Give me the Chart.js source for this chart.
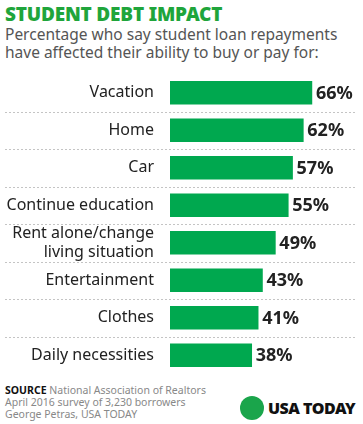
<!DOCTYPE html>
<html lang="en">
<head>
  <meta charset="UTF-8">
  <title>Student Debt Impact</title>
  <script src="https://cdn.jsdelivr.net/npm/chart.js"></script>
  <style>
    body {
      margin: 0;
      width: 363px;
      height: 424px;
      background: #fff;
      font-family: "Noto Sans", Arial, sans-serif;
      position: relative;
      overflow: hidden;
    }
    .title {
      position: absolute;
      left: 5px;
      top: 1px;
      font-size: 19px;
      font-weight: 900;
      color: #1fa53b;
      letter-spacing: -0.2px;
    }
    .subtitle {
      position: absolute;
      left: 5px;
      top: 25px;
      font-size: 15.5px;
      line-height: 18px;
      color: #555;
    }
    .chart-box {
      position: absolute;
      left: 0;
      top: 74px;
      width: 363px;
      height: 300px;
    }
    .source {
      position: absolute;
      left: 5px;
      top: 384px;
      font-size: 10.5px;
      line-height: 12px;
      color: #888;
    }
    .source b { color: #111; }
    .logo {
      position: absolute;
      left: 240px;
      top: 396px;
      display: flex;
      align-items: center;
    }
    .dot {
      width: 24px;
      height: 24px;
      border-radius: 50%;
      background: #1aa54b;
      margin-right: 4px;
    }
    .logo span {
      font-size: 16px;
      font-weight: 900;
      color: #111;
      letter-spacing: -0.5px;
    }
  </style>
</head>
<body>
  <div class="title">STUDENT DEBT IMPACT</div>
  <div class="subtitle">Percentage who say student loan repayments<br>have affected their ability to buy or pay for:</div>

  <div class="chart-box"><canvas id="debtChart"></canvas></div>

  <div class="source"><b>SOURCE</b> National Association of Realtors<br>April 2016 survey of 3,230 borrowers<br>George Petras, USA TODAY</div>
  <div class="logo"><div class="dot"></div><span>USA TODAY</span></div>

  <script>
    const categories = [
      'Vacation',
      'Home',
      'Car',
      'Continue education',
      ['Rent alone/change', 'living situation'],
      'Entertainment',
      'Clothes',
      'Daily necessities'
    ];
    const percents = [66, 62, 57, 55, 49, 43, 41, 38];

    // dotted separators between rows, running across the label area too
    const separators = {
      id: 'separators',
      beforeDatasetsDraw(chart) {
        const ctx = chart.ctx;
        const y = chart.scales.y;
        ctx.save();
        ctx.strokeStyle = '#c4c4c4';
        ctx.lineWidth = 1;
        ctx.setLineDash([2, 2]);
        for (let i = 0; i < categories.length - 1; i++) {
          const py = Math.round((y.getPixelForValue(i) + y.getPixelForValue(i + 1)) / 2) + 0.5;
          ctx.beginPath();
          ctx.moveTo(5, py);
          ctx.lineTo(356, py);
          ctx.stroke();
        }
        ctx.restore();
      }
    };

    const valueLabels = {
      id: 'valueLabels',
      afterDatasetsDraw(chart) {
        const ctx = chart.ctx;
        const meta = chart.getDatasetMeta(0);
        ctx.save();
        ctx.font = 'bold 18px "Noto Sans", Arial, sans-serif';
        ctx.fillStyle = '#222';
        ctx.textAlign = 'left';
        ctx.textBaseline = 'middle';
        meta.data.forEach((bar, i) => {
          ctx.fillText(percents[i] + '%', bar.x + 4, bar.y + 1);
        });
        ctx.restore();
      }
    };

    new Chart(document.getElementById('debtChart'), {
      type: 'bar',
      data: {
        labels: categories,
        datasets: [{
          data: percents,
          backgroundColor: '#00a84f',
          barThickness: 23,
          borderWidth: 0
        }]
      },
      options: {
        indexAxis: 'y',
        responsive: true,
        maintainAspectRatio: false,
        animation: false,
        layout: { padding: { left: 0, right: 21, top: 0, bottom: 0 } },
        plugins: {
          legend: { display: false },
          tooltip: { enabled: false }
        },
        scales: {
          x: {
            display: false,
            min: 0,
            max: 80
          },
          y: {
            grid: { display: false },
            border: { display: false },
            afterFit(scale) {
              scale.width = 170;
              scale.paddingTop = 0;
              scale.paddingBottom = 0;
            },
            ticks: {
              color: '#222',
              padding: 8,
              autoSkip: false,
              font: { family: '"Noto Sans", Arial, sans-serif', size: 16, lineHeight: 1.2 }
            }
          }
        }
      },
      plugins: [separators, valueLabels]
    });
  </script>
</body>
</html>
